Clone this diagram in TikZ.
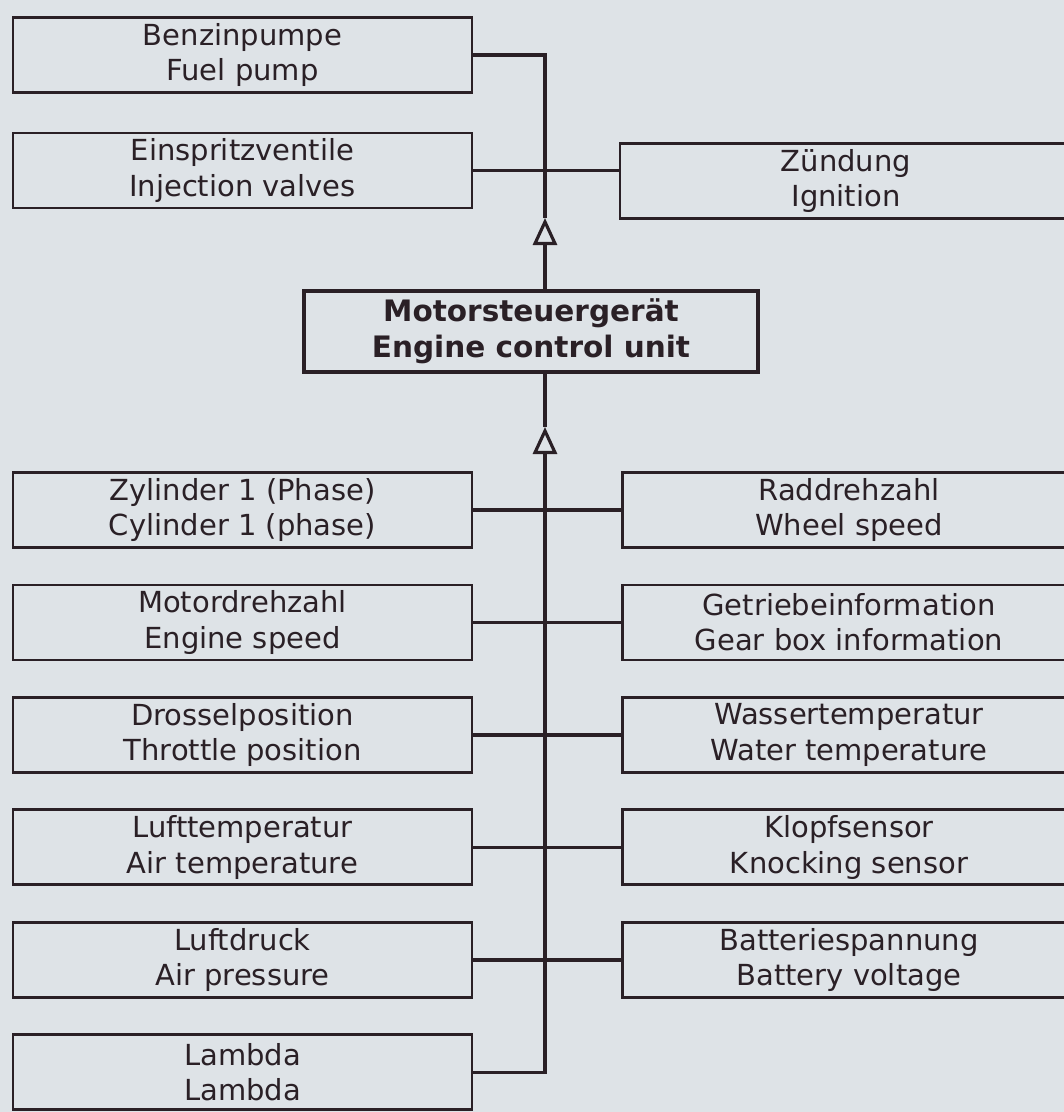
\documentclass[tikz,border=0pt]{standalone}
\usepackage{fontspec}
\setmainfont{DejaVu Sans}
\usepackage{tikz}
\usetikzlibrary{arrows.meta, positioning}
\usepackage{xcolor}
\definecolor{paper}{RGB}{222, 227, 231}
\definecolor{ink}{RGB}{42, 32, 38}

\begin{document}
\begin{tikzpicture}[
  node distance = 0.69cm and 2.96cm,
  box/.style    = {rectangle, draw=ink, line width=1.7pt, fill=paper,
                   minimum width=9.18cm, minimum height=1.5cm, inner sep=0pt,
                   align=center, text=ink, font=\fontsize{16.5}{20}\selectfont},
  rbox/.style   = {box, minimum width=9.04cm},
  ecubox/.style = {box, line width=2.8pt, minimum width=9.08cm, minimum height=1.62cm,
                   font=\fontsize{16.8}{20.5}\selectfont\bfseries},
  wire/.style   = {draw=ink, line width=2pt},
  sig/.style    = {wire, -{Triangle[open, width=4.8mm, length=5.4mm, line width=1.8pt]}}
]

%% Page
\fill[paper] (0,0) rectangle (21.28,-22.24);
\useasboundingbox (0,0) rectangle (21.28,-22.24);

%% Actuators
\node[box] (benzin) at (4.85,-1.1) {Benzinpumpe\\Fuel pump};
\node[box, below=0.75cm of benzin] (einspritz) {Einspritzventile\\Injection valves};
\node[rbox] (zuendung) at (16.92,-3.62) {Zündung\\Ignition};

%% Control unit
\node[ecubox] (ecu) at (10.62,-6.63) {Motorsteuergerät\\Engine control unit};

%% Sensors, left
\node[box] (zyl) at (4.85,-10.2) {Zylinder 1 (Phase)\\Cylinder 1 (phase)};
\node[box, below=of zyl] (motor) {Motordrehzahl\\Engine speed};
\node[box, below=of motor] (drossel) {Drosselposition\\Throttle position};
\node[box, below=of drossel] (lufttemp) {Lufttemperatur\\Air temperature};
\node[box, below=of lufttemp] (luftdruck) {Luftdruck\\Air pressure};
\node[box, below=of luftdruck] (lambda) {Lambda\\Lambda};

%% Sensors, right
\node[rbox, right=of zyl] (rad) {Raddrehzahl\\Wheel speed};
\node[rbox, right=of motor] (getriebe) {Getriebeinformation\\Gear box information};
\node[rbox, right=of drossel] (wasser) {Wassertemperatur\\Water temperature};
\node[rbox, right=of lufttemp] (klopf) {Klopfsensor\\Knocking sensor};
\node[rbox, right=of luftdruck] (batt) {Batteriespannung\\Battery voltage};

%% Bus
\coordinate (bus) at (10.9,0);
\coordinate (tipU) at (10.9,-4.36);
\coordinate (tipL) at (10.9,-8.54);

\draw[sig] (ecu.north -| bus) -- (tipU);
\draw[wire] (tipU) |- (benzin.east);
\draw[wire] (einspritz.east) -- (einspritz.east -| zuendung.west);

\draw[sig] (lambda.east) -| (tipL);
\draw[wire] (tipL) -- (ecu.south -| bus);

\foreach \l/\r in {zyl/rad, motor/getriebe, drossel/wasser, lufttemp/klopf, luftdruck/batt}
  \draw[wire] (\l.east) -- (\r.west);

\end{tikzpicture}
\end{document}
